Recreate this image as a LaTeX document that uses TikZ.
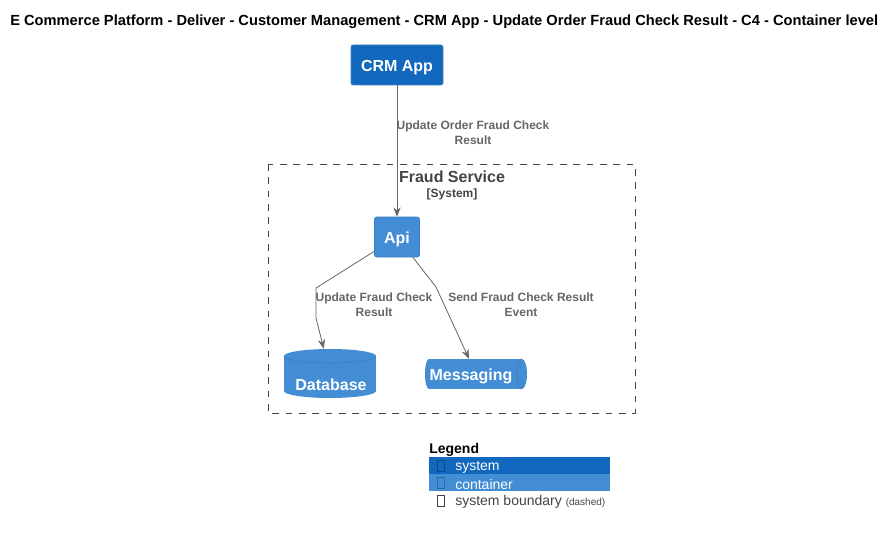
\documentclass[tikz,border=0pt]{standalone}
\usepackage{fontspec}
\setmainfont{Liberation Sans}
\usetikzlibrary{arrows.meta}
\definecolor{sysc}{HTML}{1168BD}
\definecolor{contc}{HTML}{438DD5}
\definecolor{bordc}{HTML}{3C7FC0}
\definecolor{relc}{HTML}{666666}
\definecolor{bndc}{HTML}{444444}
\begin{document}
\begin{tikzpicture}[x=0.75pt,y=-0.75pt,
  sysbox/.style={draw=bordc,fill=sysc,rounded corners=1.5pt,minimum width=69pt,minimum height=30pt,inner sep=0pt,text height=10pt,text depth=0pt,text=white,font=\bfseries\fontsize{12pt}{14pt}\selectfont},
  contbox/.style={draw=bordc,fill=contc,rounded corners=1.5pt,minimum width=33.75pt,minimum height=30pt,inner sep=0pt,text height=10pt,text depth=0pt,text=white,font=\bfseries\fontsize{12pt}{14pt}\selectfont},
  shapeanchor/.style={inner sep=0pt},
  whitelbl/.style={text=white,font=\bfseries\fontsize{12pt}{14pt}\selectfont,inner sep=0pt},
  rel/.style={draw=relc,line width=0.6pt,-{Stealth[length=7pt,width=5.5pt]}},
  rellbl/.style={text=relc,font=\bfseries\fontsize{9pt}{11.25pt}\selectfont,align=center,inner sep=0pt},
]
\useasboundingbox (0,0) rectangle (896,535);
% title
\node[font=\bfseries\fontsize{11pt}{12pt}\selectfont,anchor=west,inner sep=0pt] (title) at (10,21.5) {E Commerce Platform - Deliver - Customer Management - CRM App - Update Order Fraud Check Result - C4 - Container level};
% boundary
\draw[bndc,dash pattern=on 5pt off 5pt,line width=0.6pt] (268,164) rectangle (635,413);
\node[text=bndc,font=\bfseries\fontsize{12pt}{14pt}\selectfont,inner sep=0pt] (bname) at (452,177) {Fraud Service};
\node[text=bndc,font=\bfseries\fontsize{9pt}{11pt}\selectfont,inner sep=0pt] (btype) at (452,194) {[System]};
% nodes
\node[sysbox] (crm) at (397,65) {CRM App};
\node[contbox] (api) at (397,237) {Api};
% database cylinder
\fill[contc] (284,356) rectangle (376,391);
\fill[contc] (330,356) ellipse [x radius=46, y radius=7];
\fill[contc] (330,391) ellipse [x radius=46, y radius=7];
\draw[bordc,line width=0.5pt] (284,356) arc[start angle=180,end angle=0,x radius=46,y radius=7];
\node[shapeanchor,minimum width=69pt,minimum height=36.75pt] (db) at (330,373.5) {};
\node[whitelbl] (dblbl) at (331,385) {Database};
% messaging cylinder
\fill[contc] (429,359) rectangle (522,389);
\fill[contc] (429,374) ellipse [x radius=4, y radius=15];
\fill[contc] (522,374) ellipse [x radius=5, y radius=15];
\draw[bordc,line width=0.5pt] (522,359) arc[start angle=270,end angle=90,x radius=5,y radius=15];
\node[shapeanchor,minimum width=76.5pt,minimum height=22.5pt] (msg) at (476,374) {};
\node[whitelbl] (msglbl) at (471,376) {Messaging};
% relations
\draw[rel] (crm) -- (api);
\node[rellbl] (l1) at (473,133) {Update Order Fraud Check\\Result};
\coordinate (b1) at (316,288);
\coordinate (b2) at (316,318);
\draw[rel] (api) -- (b1) -- (b2) -- (db);
\node[rellbl] (l2) at (374,305) {Update Fraud Check\\Result};
\coordinate (c1) at (436,287);
\draw[rel] (api) -- (c1) -- (msg);
\node[rellbl] (l3) at (521,305) {Send Fraud Check Result\\Event};
% legend
\node[font=\bfseries\fontsize{10.5pt}{12pt}\selectfont,anchor=west,inner sep=0pt] (lg) at (429,450) {Legend};
\fill[sysc] (429,457) rectangle (610,474);
\fill[contc] (429,474) rectangle (610,491);
\draw[sysc!70!black,line width=0.4pt] (437,460) rectangle (444,471);
\draw[contc!75!black,line width=0.4pt] (437,477) rectangle (444,488);
\draw[bndc,line width=0.4pt] (437,495) rectangle (444,506);
\node[text=white,font=\fontsize{10.5pt}{12pt}\selectfont,anchor=west,inner sep=0pt] (lg1) at (455,467) {system};
\node[text=white,font=\fontsize{10.5pt}{12pt}\selectfont,anchor=west,inner sep=0pt] (lg2) at (455,484) {container};
\node[text=bndc,font=\fontsize{10.5pt}{12pt}\selectfont,anchor=west,inner sep=0pt] (lg3) at (455,502) {system boundary {\fontsize{7.5pt}{8pt}\selectfont (dashed)}};
\end{tikzpicture}
\end{document}
